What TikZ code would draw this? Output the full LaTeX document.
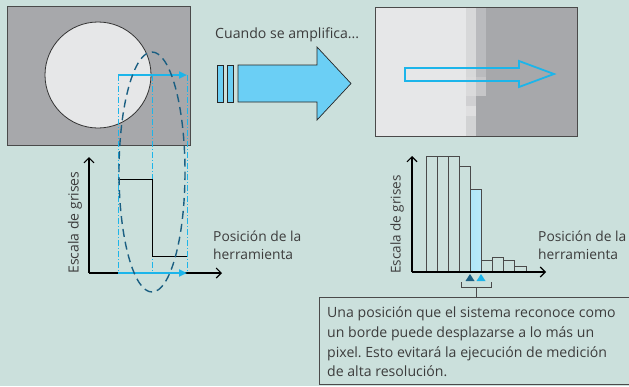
\documentclass[tikz,border=0pt]{standalone}
\usepackage{fontspec}
\setmainfont{Open Sans}
\usetikzlibrary{arrows.meta}
\frenchspacing
\definecolor{fondo}{HTML}{CBE0DC}
\definecolor{grisoscuro}{HTML}{A7A8AB}
\definecolor{grisclaro}{HTML}{E6E7E8}
\definecolor{celeste}{HTML}{1CB5EA}
\definecolor{azulosc}{HTML}{1B5F82}
\definecolor{flechaazul}{HTML}{6BCFF5}
\definecolor{tinta}{HTML}{3C3C3C}
\definecolor{borde}{HTML}{4A4A4A}
% pixeles del borde
\definecolor{pxa}{HTML}{D7D8D9}
\definecolor{pxb}{HTML}{DADADB}
\definecolor{pxc}{HTML}{D0D0D2}
\definecolor{pxd}{HTML}{DFDFE0}
\definecolor{pxe}{HTML}{D2D3D4}
\definecolor{pxf}{HTML}{BABBBE}
\definecolor{pxg}{HTML}{C6C6C8}
\tikzset{
  eje/.style={line width=1.1pt, -{Straight Barb[length=5pt,width=10pt]}},
  guia/.style={celeste, line width=0.8pt, dash pattern=on 6pt off 2pt on 1pt off 2pt},
  recorrido/.style={celeste, line width=2.2pt, -{Triangle[length=8pt,width=7pt]}},
  texto/.style={text=tinta, inner sep=0pt, align=left, font=\fontsize{13.8}{18}\selectfont},
  barra/.style={draw=borde, line width=0.8pt},
}
\begin{document}
\begin{tikzpicture}[x=1pt,y=-1pt]
    \useasboundingbox[fill=fondo] (0,0) rectangle (629,386);

    % imagen original
    \begin{scope}
        \filldraw[fill=grisoscuro, draw=borde, line width=0.9pt] (7,6) rectangle (190,145);
        \filldraw[fill=grisclaro, draw=black!80, line width=0.8pt] (98,75) circle (53);
        % lineas guia
        \draw[guia] (118,75) -- (118,273);
        \draw[guia] (152,75) -- (152,273);
        \draw[guia] (187,75) -- (187,273);
        \coordinate (ini1) at (118,75);
        \coordinate (fin1) at (187,75);
        \draw[recorrido] (ini1) -- (fin1);
        % grafico
        \coordinate (o1) at (89,273);
        \coordinate (ey1) at (89,157);
        \coordinate (ex1) at (222,273);
        \draw[eje] (o1) -- (ey1);
        \draw[eje] (o1) -- (ex1);
        \draw[line width=0.9pt] (118,179) -- (152,179) -- (152,256) -- (187,256);
        \coordinate (ini2) at (118,273);
        \coordinate (fin2) at (187,273);
        \draw[recorrido] (ini2) -- (fin2);
        \node[texto, rotate=90, font=\fontsize{14}{18}\selectfont] (esc1) at (75,222.5) {Escala de grises};
        \node[texto, anchor=base west] (pos1) at (213,259) {Posición de la\\herramienta};
        % elipse
        \draw[azulosc, line width=1.4pt, dash pattern=on 8pt off 5pt] (152,172) ellipse [x radius=33, y radius=120];
    \end{scope}

    % flecha grande
    \begin{scope}
        \node[texto, anchor=base west, font=\fontsize{14.1}{18}\selectfont] (amp) at (215,38.5) {Cuando se amplifica...};
        \filldraw[fill=flechaazul, draw=black!85, line width=0.7pt] (217,65) rectangle (223,102);
        \filldraw[fill=flechaazul, draw=black!85, line width=0.7pt] (227,65) rectangle (233,102);
        \filldraw[fill=flechaazul, draw=black!85, line width=0.7pt]
            (238,65) -- (317,65) -- (317,47) -- (351,83.5) -- (317,120) -- (317,102) -- (238,102) -- cycle;
    \end{scope}

    % imagen amplificada
    \begin{scope}
        \fill[grisclaro] (375,7) rectangle (577,136);
        \fill[grisoscuro] (486,7) rectangle (577,136);
        \fill[pxa] (466,7) rectangle (476,77);
        \fill[pxb] (466,77) rectangle (476,96);
        \fill[pxc] (466,96) rectangle (476,106);
        \fill[pxd] (466,106) rectangle (476,116);
        \fill[pxe] (466,116) rectangle (476,136);
        \fill[pxf] (476,7) rectangle (486,77);
        \fill[pxg] (476,77) rectangle (486,96);
        \fill[grisoscuro] (476,96) rectangle (486,136);
        \draw[borde, line width=0.9pt] (375,7) rectangle (577,136);
        \draw[celeste, line width=1.8pt]
            (405,68) -- (519,68) -- (519,61) -- (554,74) -- (519,87) -- (519,81) -- (405,81) -- cycle;
    \end{scope}

    % histograma
    \begin{scope}
        \foreach \i/\h in {0/156,1/156,2/156,3/166,5/260.7,6/257.7,7/260.7,8/266}
            \draw[barra] (426+11.1*\i,272) rectangle (437.1+11.1*\i,\h);
        \shade[left color=celeste!35, middle color=white, right color=celeste!30] (470.4,272) rectangle (481.5,189);
        \draw[barra] (470.4,272) rectangle (481.5,189);
        \coordinate (o2) at (412,272);
        \coordinate (ey2) at (412,156);
        \coordinate (ex2) at (546,272);
        \draw[eje] (o2) -- (ey2);
        \draw[eje] (o2) -- (ex2);
        \fill[azulosc] (465.5,281) -- (474.5,281) -- (470,274) -- cycle;
        \fill[celeste] (476.5,281) -- (485.5,281) -- (481,274) -- cycle;
        \node[texto, rotate=90, font=\fontsize{13.5}{18}\selectfont] (esc2) at (397,224.5) {Escala de grises};
        \node[texto, anchor=base west] (pos2) at (538,259) {Posición de la\\herramienta};
    \end{scope}

    % nota
    \coordinate (cor1) at (461,282);
    \coordinate (cor2) at (491,282);
    \coordinate (cor) at (476,287);
    \node[draw=borde, line width=0.8pt, minimum width=320, minimum height=87, anchor=north west] (caja) at (319,297) {};
    \draw[borde, line width=0.8pt] (cor1) -- (cor1 |- cor) -- (cor2 |- cor) -- (cor2);
    \draw[borde, line width=0.8pt] (cor) -- (caja.north -| cor);
    \node[texto, anchor=base west, font=\fontsize{14.1}{19.7}\selectfont] (nota) at (327,376.7)
        {Una posición que el sistema reconoce como\\un borde puede desplazarse a lo más un\\pixel. Esto evitará la ejecución de medición\\de alta resolución.};
\end{tikzpicture}
\end{document}
